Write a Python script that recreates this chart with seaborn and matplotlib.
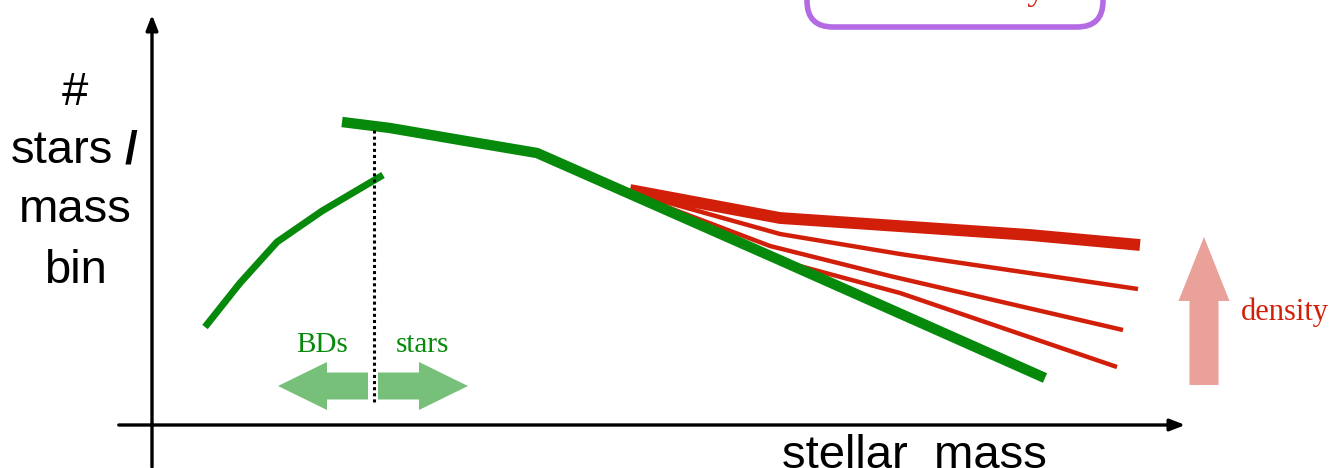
import matplotlib
matplotlib.use("Agg")
import matplotlib.pyplot as plt
import seaborn as sns
from matplotlib.patches import FancyArrow, FancyBboxPatch

# schematic IMF, values in picture units (x right, y down)
bd_x = [205, 240, 277, 322, 383]
bd_y = [327, 283, 242, 211, 175]
star_x = [342, 390, 460, 537, 630, 775, 1045]
star_y = [122, 128, 140, 153, 194, 258, 378]

# red branches for rising density, thick one is the densest
red_lines = {
    "high": ([630, 780, 1030, 1140], [190, 218, 235, 245], 8.5),
    "mid2": ([630, 780, 900, 1138], [192, 234, 254, 289], 3.2),
    "mid1": ([630, 770, 890, 1123], [193, 246, 276, 330], 3.2),
    "low":  ([630, 770, 900, 1117], [194, 258, 293, 367], 3.2),
}

ylabel_lines = ["#", "stars", "mass", "bin"]
ylabel_base = [105, 163, 222, 283]

green = "#078a0c"
red = "#d11f0a"
sans = ["Liberation Sans", "DejaVu Sans"]
serif = ["Liberation Serif", "DejaVu Serif"]

sns.set_style("white")
plt.rcParams["font.family"] = sans
plt.rcParams["text.color"] = "black"

fig = plt.figure(figsize=(13.43, 4.68), dpi=100)
ax = fig.add_axes([0, 0, 1, 1])
ax.set_xlim(0, 1343)
ax.set_ylim(468, 0)
ax.axis("off")

for name, (xs, ys, lw) in red_lines.items():
    sns.lineplot(x=xs, y=ys, sort=False, color=red, lw=lw, ax=ax,
                 solid_capstyle="butt")
sns.lineplot(x=star_x, y=star_y, sort=False, color=green, lw=7.5, ax=ax,
             solid_capstyle="butt")
sns.lineplot(x=bd_x, y=bd_y, sort=False, color=green, lw=5, ax=ax,
             solid_capstyle="butt")

# BD / star boundary
ax.plot([374, 374], [130, 402], color="black", lw=2.2, ls=(0, (1, 1)))

# axes arrows
ax.annotate("", xy=(152, 12), xytext=(152, 470),
            arrowprops=dict(arrowstyle="-|>,head_length=0.9,head_width=0.35",
                            color="black", lw=2.4))
ax.annotate("", xy=(1188, 425), xytext=(116, 425),
            arrowprops=dict(arrowstyle="-|>,head_length=0.9,head_width=0.35",
                            color="black", lw=2.4))

# BDs / stars arrows
ax.add_patch(FancyArrow(368, 386, -90, 0, width=27, head_width=48,
                        head_length=49, length_includes_head=True,
                        color="#77c07a", lw=0))
ax.add_patch(FancyArrow(378, 386, 90, 0, width=27, head_width=48,
                        head_length=49, length_includes_head=True,
                        color="#77c07a", lw=0))
ax.text(322, 352, "BDs", color=green, fontsize=21, family=serif,
        ha="center", va="baseline")
ax.text(422, 352, "stars", color=green, fontsize=21, family=serif,
        ha="center", va="baseline")

# density arrow
ax.add_patch(FancyArrow(1204, 385, 0, -148, width=29, head_width=51,
                        head_length=64, length_includes_head=True,
                        color="#e9a199", lw=0))
ax.text(1241, 320, "density", color=red, fontsize=22, family=serif,
        ha="left", va="baseline")

# box at the top, mostly cut off
ax.add_patch(FancyBboxPatch((807, -80), 296, 107,
                            boxstyle="round,pad=0,rounding_size=26",
                            fill=False, ec="#b36ae2", lw=4))
ax.text(1046, -1, "density", color=red, fontsize=26, family=serif,
        ha="right", va="baseline")

# axis labels
for txt, yy in zip(ylabel_lines, ylabel_base):
    xx = 62 if txt == "stars" else 75
    ax.text(xx, yy, txt, fontsize=34, ha="center", va="baseline")
ax.text(131, 163, "/", fontsize=33, ha="center", va="baseline",
        fontweight="bold")
ax.text(914, 468, "stellar  mass", fontsize=34, ha="center", va="baseline")

fig.savefig("out.png", dpi=100)
